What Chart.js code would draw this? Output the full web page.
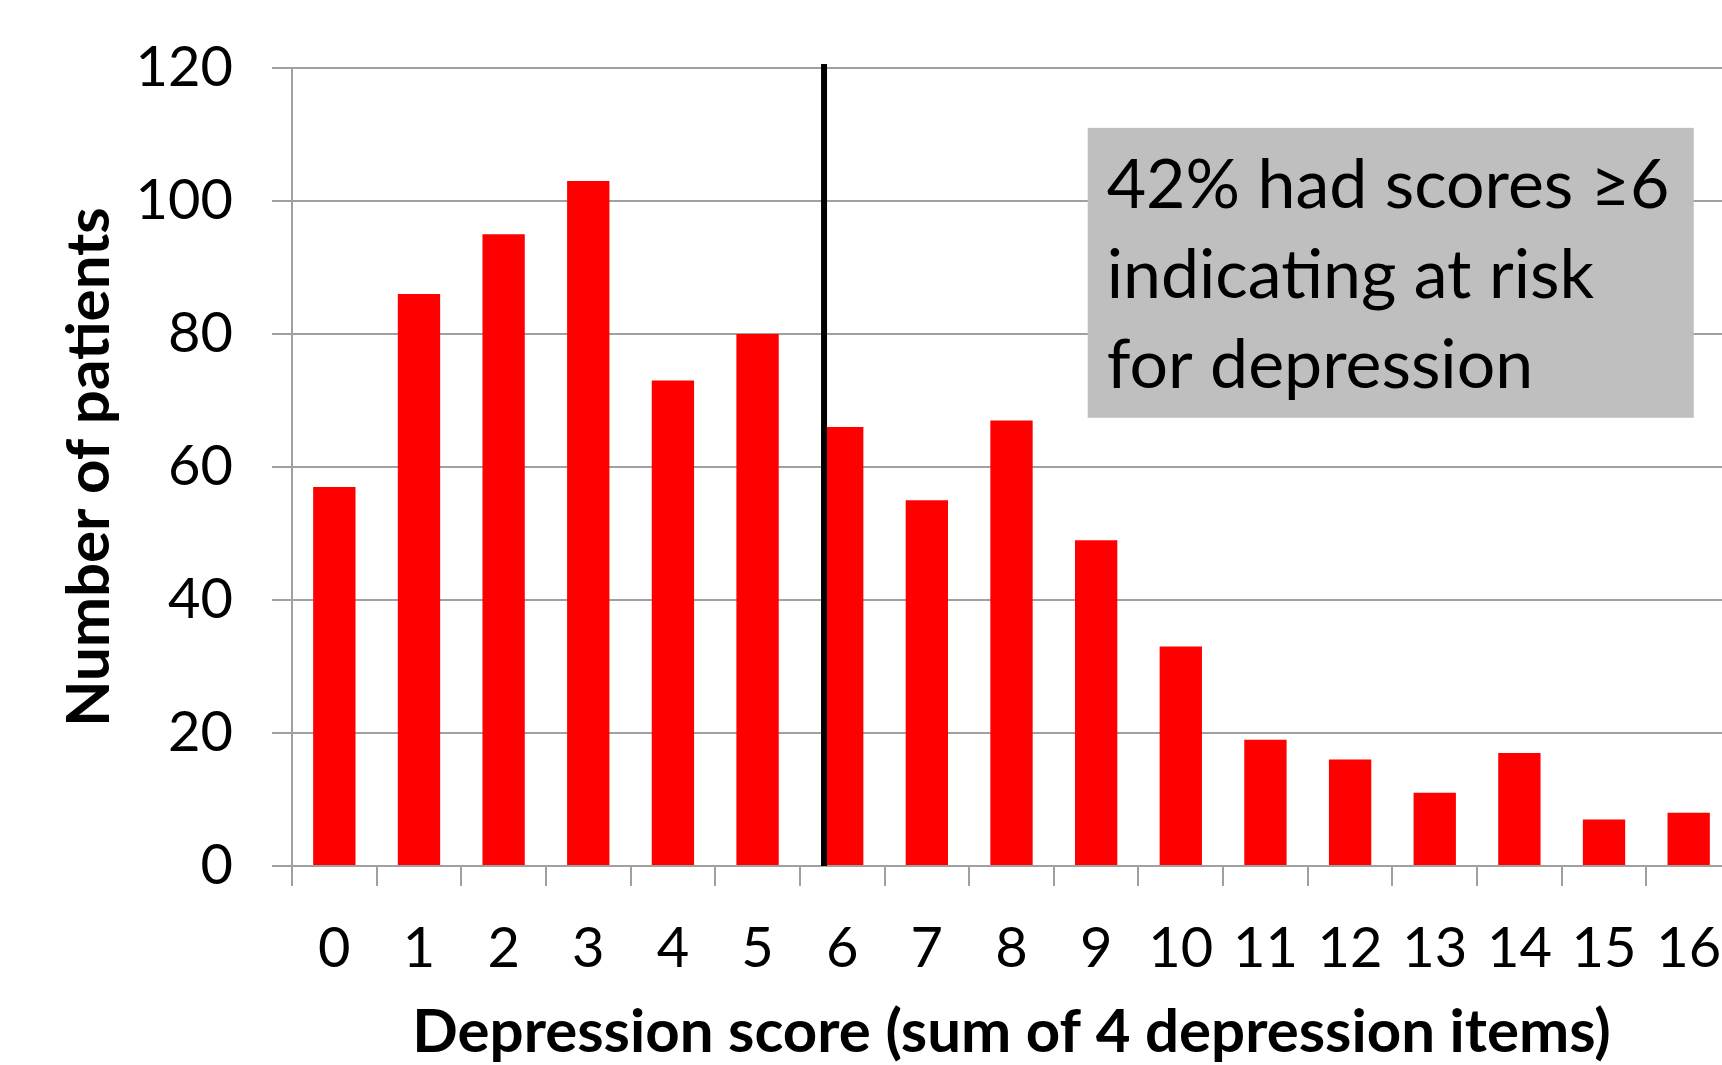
<!DOCTYPE html>
<html>
<head>
<meta charset="utf-8">
<script src="https://cdn.jsdelivr.net/npm/chart.js@4.4.0/dist/chart.umd.min.js"></script>
<style>
    html, body { margin: 0; padding: 0; background: #fff; overflow: hidden; }
    canvas { display: block; }
</style>
</head>
<body>
<canvas id="chart1" width="1740" height="1065"></canvas>
<script>
// Data
const scores = ['0', '1', '2', '3', '4', '5', '6', '7', '8', '9', '10', '11', '12', '13', '14', '15', '16'];
const patients = [57, 86, 95, 103, 73, 80, 66, 55, 67, 49, 33, 19, 16, 11, 17, 7, 8];
const yTicks = [0, 20, 40, 60, 80, 100, 120];
const cutoffScore = '6';
const noteLines = ['42% had scores \u22656', 'indicating at risk', 'for depression'];

const FONT = 'Lato, "Open Sans", sans-serif';
const GRID = '#a0a0a0';

// Grey note box + black cut-off line, placed through the scales
const overlay = {
    id: 'overlay',
    afterDatasetsDraw(chart) {
        const { ctx, chartArea, scales: { x, y } } = chart;
        const bar = chart.getDatasetMeta(0).data[scores.indexOf(cutoffScore)];
        // line sits over the left edge of the first "at risk" bar
        const lineX = bar.x - bar.width / 2 + 3;

        ctx.save();
        ctx.strokeStyle = '#000';
        ctx.lineWidth = 6;
        ctx.beginPath();
        ctx.moveTo(lineX, chartArea.top - 4);
        ctx.lineTo(lineX, y.getPixelForValue(0));
        ctx.stroke();

        // note box
        const left = x.getPixelForValue(8.9);
        const right = x.getPixelForValue(16.06);
        const top = y.getPixelForValue(111);
        const bottom = y.getPixelForValue(67.4);
        ctx.fillStyle = '#bfbfbf';
        ctx.fillRect(left, top, right - left, bottom - top);

        ctx.fillStyle = '#000';
        ctx.font = '68px ' + FONT;
        ctx.textAlign = 'left';
        ctx.textBaseline = 'alphabetic';
        noteLines.forEach((line, i) => {
            ctx.fillText(line, left + 19, top + 80 + i * 90);
        });
        ctx.restore();
    }
};

const ctx = document.getElementById('chart1').getContext('2d');
const chart1 = new Chart(ctx, {
    type: 'bar',
    data: {
        labels: scores,
        datasets: [{
            label: 'Number of patients',
            data: patients,
            backgroundColor: '#ff0000',
            borderWidth: 0,
            barPercentage: 0.5,
            categoryPercentage: 1.0
        }]
    },
    options: {
        responsive: false,
        animation: false,
        devicePixelRatio: 1,
        layout: { padding: { top: 68, right: 9, left: 0, bottom: 0 } },
        scales: {
            x: {
                ticks: {
                    color: '#000',
                    // tall line box pushes the labels down without adding side padding
                    font: { family: FONT, size: 56, lineHeight: 2.25 },
                    padding: 0,
                    maxRotation: 0,
                    autoSkip: false
                },
                grid: { drawOnChartArea: false, color: GRID, lineWidth: 2, tickLength: 20 },
                border: { color: GRID, width: 2 },
                title: {
                    display: true,
                    text: 'Depression score (sum of 4 depression items)',
                    color: '#000',
                    font: { family: FONT, size: 60, weight: 'bold', lineHeight: 1 },
                    padding: { top: 0, bottom: 2 }
                },
                afterFit(scale) { scale.height = 199; }
            },
            y: {
                min: 0,
                max: 120,
                afterBuildTicks(scale) { scale.ticks = yTicks.map(v => ({ value: v })); },
                ticks: {
                    color: '#000',
                    font: { family: FONT, size: 56, lineHeight: 0.4 },
                    padding: 39
                },
                grid: { color: GRID, lineWidth: 2, tickLength: 20 },
                border: { color: GRID, width: 2 },
                title: {
                    display: true,
                    text: 'Number of patients',
                    color: '#000',
                    font: { family: FONT, size: 60, weight: 'bold', lineHeight: 1 },
                    padding: { top: 60, bottom: 0 }
                },
                afterFit(scale) { scale.width = 292; }
            }
        },
        plugins: {
            legend: { display: false },
            tooltip: { enabled: false }
        }
    },
    plugins: [overlay]
});
</script>
</body>
</html>
